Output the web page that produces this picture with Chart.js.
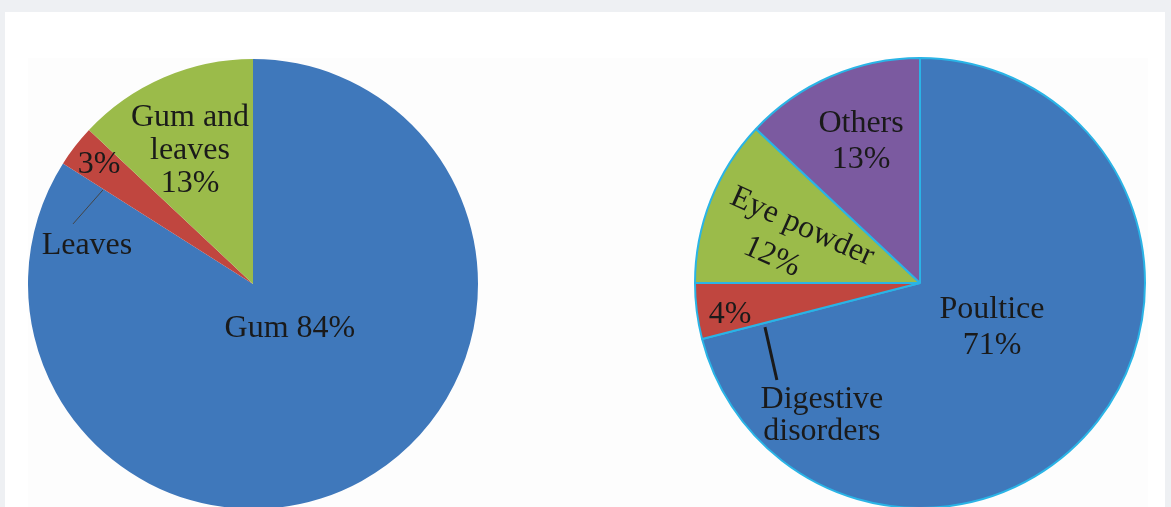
<!DOCTYPE html>
<html>
<head>
<meta charset="utf-8">
<script src="https://cdn.jsdelivr.net/npm/chart.js@4/dist/chart.umd.min.js"></script>
<style>
  html, body { margin: 0; padding: 0; width: 1171px; height: 507px; overflow: hidden; background: #eef0f3; }
  #panel { position: absolute; left: 5px; top: 12px; width: 1160px; height: 495px; background: #ffffff; }
  #inner { position: absolute; left: 28px; top: 58px; width: 1120px; height: 449px; background: #fdfdfd; }
  canvas { position: absolute; }
  #leftPie { left: 28px; top: 59px; }
  #rightPie { left: 694px; top: 57px; }
</style>
</head>
<body>
<div id="panel"></div>
<div id="inner"></div>
<canvas id="leftPie" width="450" height="450"></canvas>
<canvas id="rightPie" width="452" height="452"></canvas>
<script>
// DATA #####################################################################

var leftLabels = ["Gum", "Leaves", "Gum and leaves"];
var leftValues = [84, 3, 13];
var leftColors = ["#3f78bb", "#c0463f", "#9bbb4a"];

var rightLabels = ["Poultice", "Digestive disorders", "Eye powder", "Others"];
var rightValues = [71, 4, 12, 13];
var rightColors = ["#3f78bb", "#c0463f", "#9bbb4a", "#7b5aa0"];

// label placement, relative to pie centre in units of radius
var leftText = [
  { lines: ["Gum 84%"], dx: 0.164, dy: 0.191, lh: 33 },
  { lines: ["Gum and", "leaves", "13%"], dx: -0.28, dy: -0.604, lh: 33 },
  { lines: ["3%"], dx: -0.684, dy: -0.538, lh: 33 },
  { lines: ["Leaves"], dx: -0.738, dy: -0.178, lh: 33 }
];
var leftLeaders = [
  { from: [-0.667, -0.418], to: [-0.8, -0.267], width: 1, color: "#444" }
];

var rightText = [
  { lines: ["Poultice", "71%"], dx: 0.32, dy: 0.191, lh: 36 },
  { lines: ["Digestive", "disorders"], dx: -0.436, dy: 0.582, lh: 32 },
  { lines: ["4%"], dx: -0.844, dy: 0.133, lh: 33 },
  { lines: ["Eye powder"], dx: -0.524, dy: -0.258, lh: 33, rot: 24 },
  { lines: ["12%"], dx: -0.658, dy: -0.124, lh: 33, rot: 24 },
  { lines: ["Others", "13%"], dx: -0.262, dy: -0.636, lh: 36 }
];
var rightLeaders = [
  { from: [-0.689, 0.196], to: [-0.636, 0.431], width: 3, color: "#1a1a1a" }
];

// LABEL PLUGIN #############################################################

var sliceLabels = {
  id: "sliceLabels",
  afterDatasetsDraw: function (chart, args, opts) {
    var arc = chart.getDatasetMeta(0).data[0];
    var cx = arc.x, cy = arc.y, r = arc.outerRadius;
    var ctx = chart.ctx;
    ctx.save();
    (opts.leaders || []).forEach(function (l) {
      ctx.beginPath();
      ctx.strokeStyle = l.color;
      ctx.lineWidth = l.width;
      ctx.moveTo(cx + l.from[0] * r, cy + l.from[1] * r);
      ctx.lineTo(cx + l.to[0] * r, cy + l.to[1] * r);
      ctx.stroke();
    });
    ctx.font = "32px 'Liberation Serif', serif";
    ctx.fillStyle = "#1a1a1a";
    ctx.textAlign = "center";
    ctx.textBaseline = "middle";
    (opts.texts || []).forEach(function (t) {
      ctx.save();
      ctx.translate(cx + t.dx * r, cy + t.dy * r + 2);
      if (t.rot) ctx.rotate(t.rot * Math.PI / 180);
      var n = t.lines.length;
      t.lines.forEach(function (line, i) {
        ctx.fillText(line, 0, (i - (n - 1) / 2) * t.lh);
      });
      ctx.restore();
    });
    ctx.restore();
  }
};

function makePie(id, labels, values, colors, border, texts, leaders) {
  return new Chart(document.getElementById(id), {
    type: "pie",
    data: {
      labels: labels,
      datasets: [{
        data: values,
        backgroundColor: colors,
        borderColor: border ? "#2ab4e6" : colors,
        borderWidth: border ? 2 : 0
      }]
    },
    options: {
      responsive: false,
      animation: false,
      layout: { padding: 0 },
      plugins: {
        legend: { display: false },
        tooltip: { enabled: false },
        sliceLabels: { texts: texts, leaders: leaders }
      }
    },
    plugins: [sliceLabels]
  });
}

makePie("leftPie", leftLabels, leftValues, leftColors, false, leftText, leftLeaders);
makePie("rightPie", rightLabels, rightValues, rightColors, true, rightText, rightLeaders);
</script>
</body>
</html>
